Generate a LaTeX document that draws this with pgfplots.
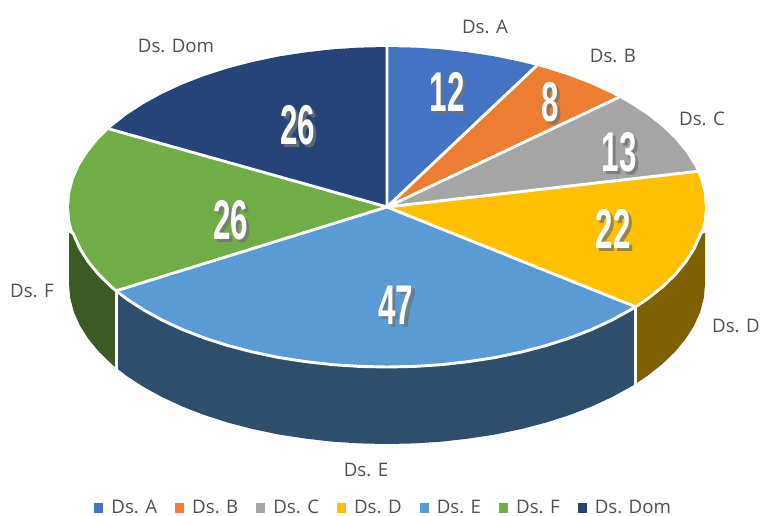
\documentclass[border=0pt]{standalone}
\usepackage{fontspec}
\usepackage{graphicx}
\usepackage{pgfplots}
\pgfplotsset{compat=1.18}
\setmainfont{Open Sans}
\newfontfamily\valfont{Liberation Sans}[Scale=1]

\definecolor{cA}{HTML}{4472C4}
\definecolor{cB}{HTML}{ED7D31}
\definecolor{cC}{HTML}{A5A5A5}
\definecolor{cD}{HTML}{FFC000}
\definecolor{cE}{HTML}{5B9BD5}
\definecolor{cF}{HTML}{70AD47}
\definecolor{cDom}{HTML}{264478}
\definecolor{sD}{HTML}{7F6000}
\definecolor{sE}{HTML}{2E4E6B}
\definecolor{sF}{HTML}{3B5A24}
\definecolor{lbl}{HTML}{505050}

\pgfplotsset{
	vals/.style={
		forget plot, only marks, mark=none,
		point meta=explicit symbolic,
		nodes near coords={\scalebox{0.56}[1]{\pgfplotspointmeta}},
		every node near coord/.style={anchor=center, inner sep=0pt, text=#1,
			font=\valfont\bfseries\fontsize{42}{42}\selectfont}
	}
}

\begin{document}
\begin{tikzpicture}
	\useasboundingbox (0,0) rectangle (570pt,386.25pt);
	% coordinates are pixels of the 760x515 picture
	\begin{axis}[
		at={(0,0)}, anchor=south west,
		scale only axis, width=570pt, height=386.25pt,
		xmin=0, xmax=760, ymin=0, ymax=515, y dir=reverse,
		hide axis, clip=false,
		legend image code/.code={\fill[#1] (0pt,-3.4pt) rectangle (6.8pt,3.4pt);},
		legend columns=-1,
		legend style={at={(axis cs:384,508)}, anchor=center, draw=none, fill=none,
			font=\fontsize{14}{14}\selectfont, text=lbl, inner sep=0pt,
			/tikz/every odd column/.append style={column sep=4pt},
			/tikz/every even column/.append style={column sep=11.5pt}},
	]
	% side walls, upper edges hidden under the top face
	\addplot[forget plot, fill=sD, draw=none] coordinates {
		(705,233)(705,284)(703.8,297.9)(700.2,311.8)(694.2,325.4)(685.8,338.7)(675.2,351.6)
		(662.4,364)(647.5,375.8)(635.6,383.8)(635.6,306.8)(600,250)};
	\addplot[forget plot, fill=sE, draw=none] coordinates {
		(635.6,306.8)(635.6,383.8)(630.6,386.8)(611.9,397.1)(591.4,406.6)(569.4,415.1)(546,422.6)
		(521.4,429)(495.8,434.4)(469.3,438.5)(442.2,441.6)(414.7,443.4)(387,444)(359.3,443.4)
		(331.8,441.6)(304.7,438.5)(278.2,434.4)(252.6,429)(228,422.6)(204.6,415.1)(182.6,406.6)
		(162.1,397.1)(143.4,386.8)(126.5,375.8)(116.2,367.8)(116.2,290.8)(387,207)};
	\addplot[forget plot, fill=sF, draw=none] coordinates {
		(116.2,290.8)(116.2,367.8)(111.6,364)(98.8,351.6)(88.2,338.7)(79.8,325.4)(73.8,311.8)
		(70.2,297.9)(69,284)(69,233)(120,250)};

	% top face, one wedge per category
	\addplot[fill=cA, draw=none] coordinates {
		(387,207)(387,47)(414.7,47.6)(442.2,49.4)(469.3,52.5)(495.8,56.6)(521.4,62)(536.5,65.8)};
	\addlegendentry{Ds. A}
	\addplot[fill=cB, draw=none] coordinates {
		(387,207)(536.5,65.8)(546,68.4)(569.4,75.9)(591.4,84.4)(611.9,93.9)(618.6,97.4)};
	\addlegendentry{Ds. B}
	\addplot[fill=cC, draw=none] coordinates {
		(387,207)(618.6,97.4)(630.6,104.2)(647.5,115.2)(662.4,127)(675.2,139.4)(685.8,152.3)
		(694.2,165.6)(697,171.4)};
	\addlegendentry{Ds. C}
	\addplot[fill=cD, draw=none] coordinates {
		(387,207)(697,171.4)(700.2,179.2)(703.8,193.1)(705,207)(703.8,220.9)(700.2,234.8)
		(694.2,248.4)(685.8,261.7)(675.2,274.6)(662.4,287)(647.5,298.8)(635.6,306.8)};
	\addlegendentry{Ds. D}
	\addplot[fill=cE, draw=none] coordinates {
		(387,207)(635.6,306.8)(630.6,309.8)(611.9,320.1)(591.4,329.6)(569.4,338.1)(546,345.6)
		(521.4,352)(495.8,357.4)(469.3,361.5)(442.2,364.6)(414.7,366.4)(387,367)(359.3,366.4)
		(331.8,364.6)(304.7,361.5)(278.2,357.4)(252.6,352)(228,345.6)(204.6,338.1)(182.6,329.6)
		(162.1,320.1)(143.4,309.8)(126.5,298.8)(116.2,290.8)};
	\addlegendentry{Ds. E}
	\addplot[fill=cF, draw=none] coordinates {
		(387,207)(116.2,290.8)(111.6,287)(98.8,274.6)(88.2,261.7)(79.8,248.4)(73.8,234.8)
		(70.2,220.9)(69,207)(70.2,193.1)(73.8,179.2)(79.8,165.6)(88.2,152.3)(98.8,139.4)(109.4,129)};
	\addlegendentry{Ds. F}
	\addplot[fill=cDom, draw=none] coordinates {
		(387,207)(109.4,129)(111.6,127)(126.5,115.2)(143.4,104.2)(162.1,93.9)(182.6,84.4)
		(204.6,75.9)(228,68.4)(252.6,62)(278.2,56.6)(304.7,52.5)(331.8,49.4)(359.3,47.6)(387,47)};
	\addlegendentry{Ds. Dom}

	% white separators
	\addplot[forget plot, white, line width=2.2pt, line join=round] coordinates {
		(387,207)(387,47)(387,207)(536.5,65.8)(387,207)(618.6,97.4)(387,207)(697,171.4)
		(387,207)(635.6,306.8)(387,207)(116.2,290.8)(387,207)(109.4,129)};
	\addplot[forget plot, white, line width=2.2pt] coordinates {
		(704,229)(700.2,234.8)(694.2,248.4)(685.8,261.7)(675.2,274.6)(662.4,287)(647.5,298.8)(635.6,306.8)
		(630.6,309.8)(611.9,320.1)(591.4,329.6)(569.4,338.1)(546,345.6)
		(521.4,352)(495.8,357.4)(469.3,361.5)(442.2,364.6)(414.7,366.4)(387,367)(359.3,366.4)
		(331.8,364.6)(304.7,361.5)(278.2,357.4)(252.6,352)(228,345.6)(204.6,338.1)(182.6,329.6)
		(162.1,320.1)(143.4,309.8)(126.5,298.8)(116.2,290.8)
		(111.6,287)(98.8,274.6)(88.2,261.7)(79.8,248.4)(73.8,234.8)(70,229)};
	\addplot[forget plot, white, line width=2.2pt] coordinates {(635.6,306.8)(635.6,385)};
	\addplot[forget plot, white, line width=2.2pt] coordinates {(116.2,290.8)(116.2,369)};

	% value labels, shadow first
	\addplot[vals={black!55}, opacity=0.75] coordinates {
		(450,95)[12] (553,105)[8] (622,155)[13] (616,232)[22] (399,308)[47] (234,223)[26] (301,128)[26]};
	\addplot[vals=white] coordinates {
		(447,92)[12] (550,102)[8] (619,152)[13] (613,229)[22] (396,305)[47] (231,220)[26] (298,125)[26]};

	% category labels
	\addplot[forget plot, only marks, mark=none, point meta=explicit symbolic,
		nodes near coords,
		every node near coord/.style={anchor=center, inner sep=0pt, text=lbl,
			font=\fontsize{14}{14}\selectfont}] coordinates {
		(485,27)[Ds. A] (613,56)[Ds. B] (702,119)[Ds. C] (736,326)[Ds. D]
		(366,470)[Ds. E] (32,291)[Ds. F] (176,46)[Ds. Dom]};
	\end{axis}
\end{tikzpicture}
\end{document}
